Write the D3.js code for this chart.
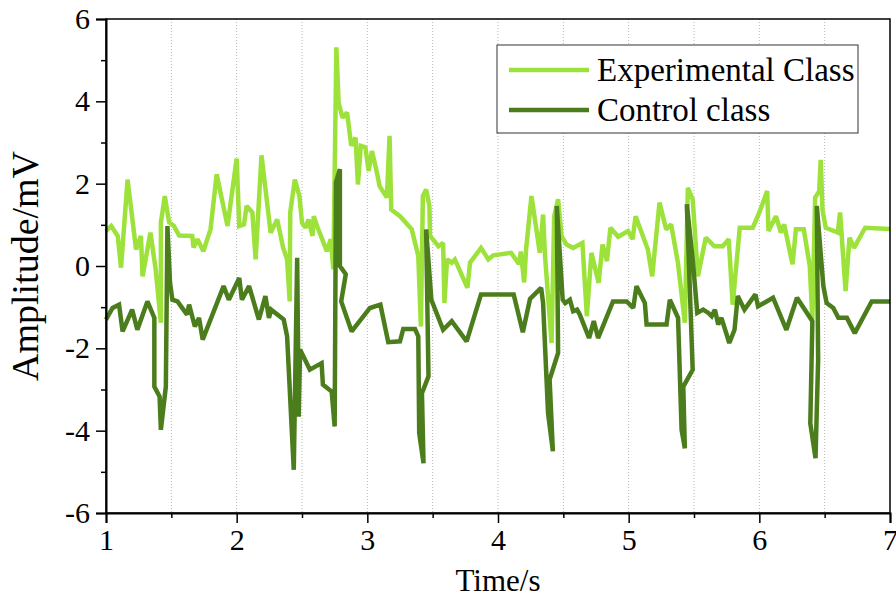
<!DOCTYPE html>
<html>
<head>
<meta charset="utf-8">
<script src="https://cdn.jsdelivr.net/npm/d3@7"></script>
<style>
  body { margin: 0; background: #fff; }
  svg text { font-family: "Liberation Serif", "Times New Roman", serif; }
</style>
</head>
<body>
<div id="chart"></div>
<script>
// experimental class (light green)
var expTime = [1.00,1.04,1.09,1.115,1.165,1.23,1.267,1.28,1.34,1.38,1.42,1.42,1.45,1.483,1.52,1.56,1.66,1.67,1.70,1.745,
  1.80,1.847,1.93,2.00,2.02,2.056,2.076,2.12,2.145,2.19,2.26,2.31,2.356,2.386,2.406,2.41,2.445,2.48,2.50,2.527,
  2.55,2.58,2.59,2.615,2.69,2.72,2.74,2.763,2.78,2.81,2.845,2.877,2.91,2.928,2.95,2.985,3.01,3.035,3.068,3.094,
  3.15,3.17,3.183,3.25,3.34,3.39,3.41,3.425,3.45,3.475,3.48,3.544,3.58,3.59,3.61,3.646,3.67,3.766,3.786,3.87,
  3.926,3.964,4.10,4.16,4.175,4.20,4.215,4.256,4.32,4.345,4.36,4.41,4.43,4.46,4.486,4.524,4.575,4.646,4.68,4.715,
  4.77,4.80,4.834,4.86,4.92,4.995,5.03,5.053,5.147,5.18,5.236,5.287,5.325,5.377,5.43,5.453,5.49,5.53,5.59,5.656,
  5.72,5.766,5.796,5.85,5.95,6.00,6.06,6.07,6.127,6.165,6.19,6.254,6.28,6.34,6.386,6.406,6.427,6.458,6.47,6.483,
  6.508,6.60,6.618,6.66,6.69,6.725,6.81,7.00];
var expAmp = [0.85,0.97,0.73,-0.04,2.10,0.40,0.73,-0.25,0.81,-0.08,-1.38,1.05,1.70,1.06,0.97,0.74,0.73,0.45,0.65,0.36,
  0.89,2.23,0.97,2.61,0.97,1.01,1.46,1.30,0.16,2.69,0.81,1.13,0.44,0.16,-0.86,1.30,2.10,1.70,1.05,0.93,
  1.13,0.73,1.21,0.97,0.36,0.65,-0.08,5.31,3.97,3.60,3.73,2.92,3.12,1.98,2.92,2.88,2.31,2.79,2.35,1.94,
  1.66,3.16,1.37,1.21,0.89,0.24,-1.47,1.70,1.86,1.46,0.73,0.48,0.56,-0.90,0.16,0.08,0.16,-0.53,0.08,0.44,
  0.16,0.26,0.32,0.05,0.35,-0.40,0.40,1.70,0.32,1.25,0.24,-1.87,1.21,1.62,0.73,0.52,0.44,0.56,-1.22,0.32,
  -0.41,0.52,0.12,0.93,0.71,0.85,0.65,1.21,0.40,-0.25,1.54,0.89,1.01,0.08,-1.38,1.90,1.62,-0.25,0.69,0.48,
  0.48,0.65,-0.94,0.93,0.93,1.30,1.82,0.85,1.21,0.81,1.01,0.04,0.89,0.89,0.00,-1.30,1.66,1.82,2.58,1.37,
  0.93,0.81,1.30,-0.61,0.69,0.44,0.93,0.90];

// control class (dark green)
var ctrlTime = [1.00,1.05,1.10,1.127,1.20,1.24,1.317,1.37,1.37,1.41,1.42,1.458,1.47,1.49,1.508,1.547,1.62,1.636,1.68,1.712,
  1.74,1.90,1.94,2.02,2.04,2.095,2.17,2.22,2.247,2.264,2.36,2.386,2.437,2.463,2.475,2.485,2.56,2.65,2.66,2.727,
  2.75,2.76,2.79,2.79,2.835,2.80,2.88,3.02,3.10,3.16,3.25,3.275,3.365,3.39,3.397,3.43,3.418,3.468,3.45,3.49,
  3.58,3.646,3.76,3.87,4.12,4.19,4.245,4.33,4.345,4.383,4.42,4.395,4.46,4.45,4.495,4.515,4.55,4.575,4.605,4.626,
  4.697,4.733,4.766,4.88,4.985,5.035,5.06,5.124,5.137,5.29,5.315,5.378,5.405,5.43,5.418,5.49,5.445,5.49,5.525,5.57,
  5.61,5.635,5.66,5.685,5.71,5.77,5.81,5.835,5.886,5.97,5.99,6.105,6.207,6.288,6.406,6.39,6.43,6.45,6.44,6.49,
  6.515,6.566,6.605,6.67,6.73,6.86,7.00];
var ctrlAmp = [-1.30,-1.02,-0.94,-1.59,-1.06,-1.55,-0.86,-1.26,-2.93,-3.17,-3.98,-2.93,0.97,-0.41,-0.82,-0.86,-1.18,-0.94,-1.47,-1.26,
  -1.79,-0.49,-0.82,-0.29,-0.82,-0.49,-1.30,-0.73,-1.26,-1.06,-1.30,-1.71,-4.95,0.20,-3.66,-2.03,-2.52,-2.36,-2.88,-3.05,
  -3.90,2.03,2.35,0.00,-0.20,-0.86,-1.59,-1.02,-0.94,-1.85,-1.83,-1.53,-1.53,-1.71,-4.06,-4.79,-3.09,-2.68,0.89,-0.82,
  -1.55,-1.34,-1.83,-0.69,-0.69,-1.61,-0.80,-0.53,-0.90,-3.57,-4.50,-2.76,-2.11,1.46,-0.82,-0.90,-0.82,-1.10,-1.06,-1.18,
  -1.75,-1.34,-1.75,-0.86,-0.86,-1.02,-0.49,-0.90,-1.42,-1.42,-0.82,-1.26,-3.98,-4.43,-2.93,-2.52,1.50,0.16,-1.14,-1.06,
  -1.14,-1.22,-1.06,-1.42,-1.26,-1.87,-1.55,-0.73,-1.06,-0.69,-0.98,-0.77,-1.55,-0.77,-1.34,-3.82,-4.67,-2.28,1.46,-0.49,
  -0.90,-1.02,-1.26,-1.26,-1.63,-0.86,-0.86];

var xTicks = [1, 2, 3, 4, 5, 6, 7];
var xMinor = [1.5, 2.5, 3.5, 4.5, 5.5, 6.5];
var yTicks = [-6, -4, -2, 0, 2, 4, 6];
var yMinor = [-5, -3, -1, 1, 3, 5];
var seriesNames = ["Experimental Class", "Control class"];
var seriesColors = ["#9de23a", "#4c7d1c"];

function drawChart(){
  var width = 896;
  var height = 597;
  var margin = {top: 19, right: 6, bottom: 84, left: 106};
  var w = width - margin.left - margin.right;
  var h = height - margin.top - margin.bottom;
  var serif = '"Liberation Serif", "Times New Roman", serif';

  var svg = d3.select('#chart')
    .append('svg')
    .attr('width', width)
    .attr('height', height);

  var g = svg.append('g')
    .attr('transform', 'translate(' + margin.left + ',' + margin.top + ')');

  var x = d3.scaleLinear().domain([1, 7]).range([0, w]);
  var y = d3.scaleLinear().domain([-6, 6]).range([h, 0]);

  // dotted vertical grid every half second
  var gridVals = d3.merge([xTicks.slice(1, -1), xMinor]);
  g.selectAll('.grid')
    .data(gridVals)
    .enter()
    .append('line')
    .attr('class', 'grid')
    .attr('x1', function(d){ return x(d); })
    .attr('x2', function(d){ return x(d); })
    .attr('y1', 0)
    .attr('y2', h)
    .attr('stroke', '#b8b8b8')
    .attr('stroke-width', 1)
    .attr('stroke-dasharray', '1,2');

  var series = [
    {name: seriesNames[0], color: seriesColors[0], pts: d3.zip(expTime, expAmp)},
    {name: seriesNames[1], color: seriesColors[1], pts: d3.zip(ctrlTime, ctrlAmp)}
  ];

  var line = d3.line()
    .x(function(d){ return x(d[0]); })
    .y(function(d){ return y(d[1]); });

  g.selectAll('.series')
    .data(series)
    .enter()
    .append('path')
    .attr('class', 'series')
    .attr('d', function(d){ return line(d.pts); })
    .attr('fill', 'none')
    .attr('stroke', function(d){ return d.color; })
    .attr('stroke-width', 4.5)
    .attr('stroke-linejoin', 'miter')
    .attr('stroke-miterlimit', 2);

  // frame
  g.append('rect')
    .attr('x', 0).attr('y', 0)
    .attr('width', w).attr('height', h)
    .attr('fill', 'none')
    .attr('stroke', '#000')
    .attr('stroke-width', 1.5);

  var fmt = function(d){ return String(d); };

  // axes
  g.append('g')
    .attr('transform', 'translate(0,' + h + ')')
    .call(d3.axisBottom(x).tickValues(xTicks).tickFormat(fmt).tickSize(10).tickPadding(6));
  g.append('g')
    .attr('transform', 'translate(0,' + h + ')')
    .call(d3.axisBottom(x).tickValues(xMinor).tickFormat('').tickSize(5))
    .select('.domain').remove();

  g.append('g')
    .call(d3.axisLeft(y).tickValues(yTicks).tickFormat(fmt).tickSize(10).tickPadding(6));
  g.append('g')
    .call(d3.axisLeft(y).tickValues(yMinor).tickFormat('').tickSize(5))
    .select('.domain').remove();

  svg.selectAll('.domain').attr('stroke-width', 2).attr('stroke', '#000');
  svg.selectAll('.tick line').attr('stroke', '#000').attr('stroke-width', 1.5);
  g.selectAll('g').attr('font-family', serif).attr('font-size', 30);
  svg.selectAll('.tick text')
    .attr('fill', '#000')
    .attr('font-family', serif)
    .attr('font-size', 30);

  // axis titles
  svg.append('text')
    .attr('x', margin.left + w / 2)
    .attr('y', 591)
    .attr('text-anchor', 'middle')
    .attr('font-size', 31)
    .text('Time/s');

  svg.append('text')
    .attr('transform', 'translate(38,' + (margin.top + h / 2) + ') rotate(-90)')
    .attr('text-anchor', 'middle')
    .attr('font-size', 38)
    .text('Amplitude/mV');

  // legend
  var legend = svg.append('g').attr('transform', 'translate(497,45)');
  legend.append('rect')
    .attr('width', 361)
    .attr('height', 88)
    .attr('fill', '#fff')
    .attr('stroke', '#333')
    .attr('stroke-width', 1);

  var items = legend.selectAll('.item')
    .data(series)
    .enter()
    .append('g')
    .attr('class', 'item')
    .attr('transform', function(d, i){ return 'translate(0,' + (25 + i * 40) + ')'; });

  items.append('line')
    .attr('x1', 12).attr('x2', 92)
    .attr('stroke', function(d){ return d.color; })
    .attr('stroke-width', 4.5);

  items.append('text')
    .attr('x', 100)
    .attr('y', 11)
    .attr('font-size', 33)
    .text(function(d){ return d.name; });
}

drawChart();
</script>
</body>
</html>
